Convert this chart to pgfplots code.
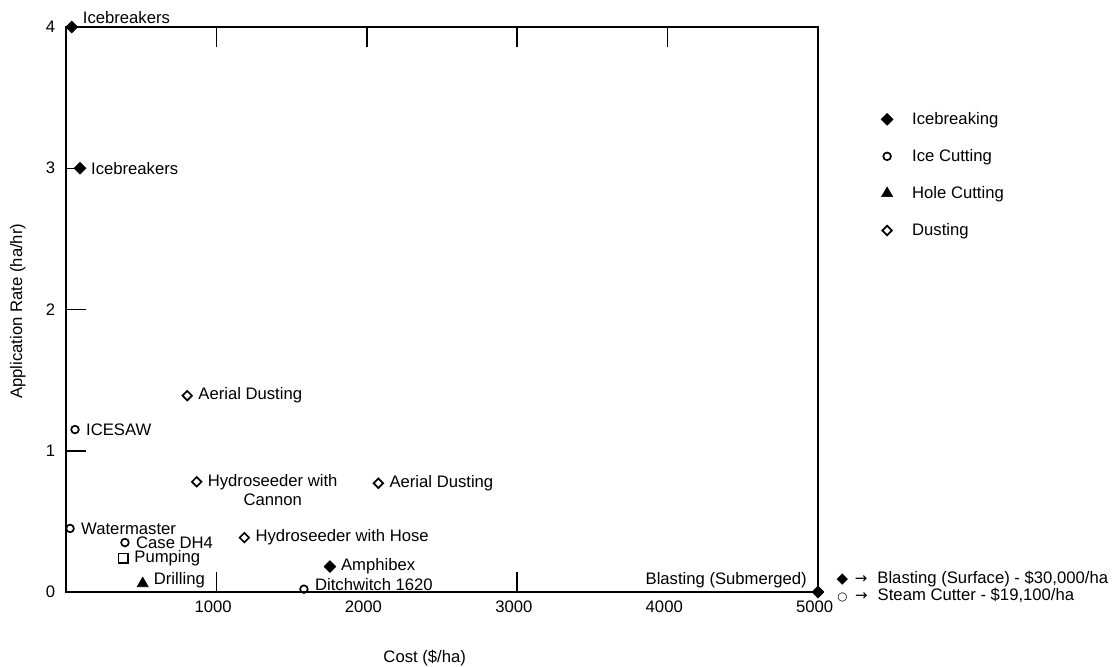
\documentclass[border=0pt]{standalone}
\usepackage{fontspec}
\setmainfont{Liberation Sans}
\newfontfamily\dejavu{DejaVu Sans}
\usepackage{pgfplots}
\usepackage{pgfplotstable}
\pgfplotsset{compat=1.18}

% cost ($/ha), rate (ha/hr), label
\pgfplotstableread[col sep=comma]{
x,y,lbl
38,4,Icebreakers
93,3,Icebreakers
1755,0.18,Amphibex
5000,0,Blasting (Submerged)
}\icebreaking
\pgfplotstableread[col sep=comma]{
x,y,lbl
60,1.15,ICESAW
27,0.45,Watermaster
392,0.35,Case DH4
1582,0.02,Ditchwitch 1620
}\icecutting
\pgfplotstableread[col sep=comma]{
x,y,lbl
510,0.06,Drilling
}\holecutting
\pgfplotstableread[col sep=comma]{
x,y,lbl
806,1.39,Aerial Dusting
869,0.78,{Hydroseeder with\\Cannon}
2077,0.77,Aerial Dusting
1186,0.385,Hydroseeder with Hose
}\dusting
\pgfplotstableread[col sep=comma]{
x,y,lbl
381,0.24,Pumping
}\pumping

\pgfplotsset{
    lbls/.style={
        forget plot, only marks, mark=none,
        point meta=explicit symbolic,
        nodes near coords,
        nodes near coords style={anchor=west, align=center,
            font=\fontsize{10}{11}\selectfont, inner sep=2pt, xshift=4.5pt, black},
    },
    pick/.style 2 args={restrict expr to domain={\coordindex}{#1:#2}},
}

\begin{document}
\begin{tikzpicture}
\path[use as bounding box] (-39.6pt,-44.4pt) rectangle (630.6pt,355.2pt);
\begin{axis}[
    at={(0,0)}, anchor=south west,
    scale only axis,
    width=451.2pt, height=339pt,
    xmin=0, xmax=5000, ymin=0, ymax=4,
    clip=false,
    axis line style={line width=0.9pt},
    tick style={line width=0.9pt, black},
    major tick length=12pt,
    tick align=inside,
    xtick={1000,2000,3000,4000,5000},
    xtick pos=right, xticklabel pos=left,
    extra x ticks={1000,3000}, extra x tick labels={},
    extra x tick style={xtick pos=left},
    ytick={0,1,2,3,4}, ytick pos=left,
    /pgf/number format/assume math mode=true,
    /pgf/number format/1000 sep={},
    ticklabel style={font=\fontsize{10}{12}\selectfont},
    xticklabel style={yshift=-2pt, xshift=-2pt},
    yticklabel style={xshift=-3pt},
    xlabel={Cost (\$/ha)},
    ylabel={Application Rate (ha/hr)},
    label style={font=\fontsize{10}{12}\selectfont},
    xlabel style={at={(axis description cs:0.477,0)}, anchor=center, yshift=-39.6pt},
    ylabel style={at={(axis description cs:-0.064,0.497)}, anchor=center},
    legend style={draw=none, fill=none, at={(axis description cs:1.077,0.862)},
        anchor=north west, font=\fontsize{10}{12}\selectfont, row sep=9.5pt,
        /tikz/every odd column/.append style={column sep=9.5pt}},
    legend cell align=left,
]
\addplot[only marks, mark=square*, mark size=2.5pt, mark options={rotate=45, fill=black}]
    table[x=x, y=y] {\icebreaking};
\addlegendentry{Icebreaking}
\addplot[only marks, mark=o, mark size=2.3pt, mark options={line width=1pt, fill=white}]
    table[x=x, y=y] {\icecutting};
\addlegendentry{Ice Cutting}
\addplot[only marks, mark=triangle*, mark size=3.8pt, mark options={fill=black}]
    table[x=x, y=y] {\holecutting};
\addlegendentry{Hole Cutting}
\addplot[only marks, mark=square, mark size=2pt, mark options={rotate=45, line width=1pt, fill=white}]
    table[x=x, y=y] {\dusting};
\addlegendentry{Dusting}
\addplot[only marks, mark=square, mark size=2.8pt, mark options={line width=0.9pt, fill=white}, forget plot]
    table[x=x, y=y] {\pumping};
% point labels
\addplot[lbls, pick={0}{0}, nodes near coords style={anchor=south west}] table[x=x, y=y, meta=lbl] {\icebreaking};
\addplot[lbls, pick={1}{2}] table[x=x, y=y, meta=lbl] {\icebreaking};
\addplot[lbls, pick={3}{3}, nodes near coords style={anchor=south east, xshift=-9pt}] table[x=x, y=y, meta=lbl] {\icebreaking};
\addplot[lbls, pick={0}{2}] table[x=x, y=y, meta=lbl] {\icecutting};
\addplot[lbls, pick={3}{3}, nodes near coords style={yshift=3pt}] table[x=x, y=y, meta=lbl] {\icecutting};
\addplot[lbls, nodes near coords style={yshift=2pt}] table[x=x, y=y, meta=lbl] {\holecutting};
\addplot[lbls, pick={0}{0}] table[x=x, y=y, meta=lbl] {\dusting};
\addplot[lbls, pick={1}{1}, nodes near coords style={yshift=-5pt}] table[x=x, y=y, meta=lbl] {\dusting};
\addplot[lbls, pick={2}{3}] table[x=x, y=y, meta=lbl] {\dusting};
\addplot[lbls] table[x=x, y=y, meta=lbl] {\pumping};
\node[anchor=west, align=left, font=\fontsize{10}{10.5}\selectfont, inner sep=0pt]
    at ([xshift=11pt, yshift=3pt]axis description cs:1,0)
    {{\dejavu\small ◆\hspace{4pt}→}\hspace{6pt}Blasting (Surface) - \$30,000/ha\\
     {\dejavu\small\hspace{0.5pt}{\scriptsize ○}\hspace{4.5pt}→}\hspace{6pt}Steam Cutter - \$19,100/ha};
\end{axis}
\end{tikzpicture}
\end{document}
